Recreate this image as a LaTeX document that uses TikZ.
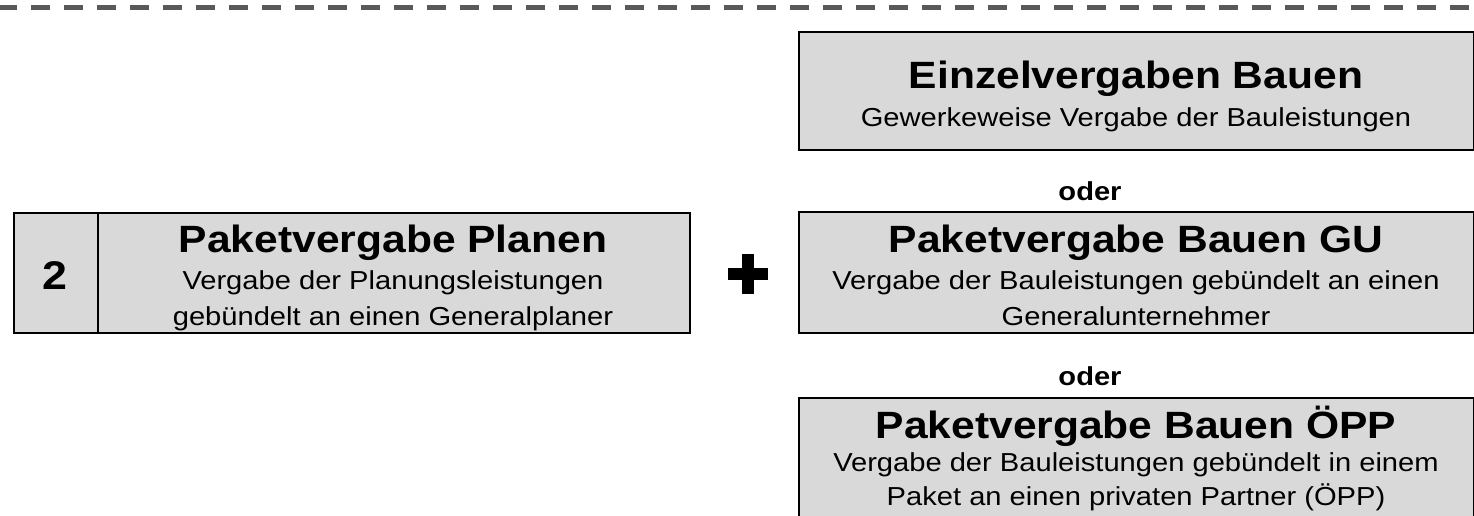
\documentclass[tikz,border=0pt]{standalone}
\usepackage{fontspec}
\setmainfont[FakeStretch=1.12]{Liberation Sans}
\usepackage{tikz}
\usetikzlibrary{calc}
\definecolor{boxgray}{HTML}{D9D9D9}
\definecolor{dashgray}{HTML}{595959}
\tikzstyle{box} = [rectangle, draw, line width=2pt, fill=boxgray, inner sep=0pt, anchor=north west]
\tikzstyle{titel} = [font=\fontsize{38}{44}\selectfont\bfseries, inner sep=0pt, anchor=base]
\tikzstyle{unter} = [font=\fontsize{26}{30}\selectfont, inner sep=0pt, anchor=base]
\tikzstyle{oder} = [font=\fontsize{26}{30}\selectfont\bfseries, inner sep=0pt, anchor=base]

\begin{document}
\begin{tikzpicture}[x=1pt, y=-1pt]
    \clip (0,0) rectangle (1474,515);
    \draw [dashgray, line width=5pt, dash pattern=on 19pt off 14pt, dash phase=2pt] (0,7) -- (1474,7);

    % links: Planen
    \node [box, minimum width=84, minimum height=120] (nr) at (13,212) {};
    \node [box, minimum width=592, minimum height=120] (planen) at (97,212) {};
    \node [titel, font=\fontsize{40}{44}\selectfont\bfseries] (nrtext) at (55,289) {2};
    \node [titel] (planentitel) at (393,252) {Paketvergabe Planen};
    \node [unter] (planen1) at (393,289) {Vergabe der Planungsleistungen};
    \node [unter] (planen2) at (393,325) {gebündelt an einen Generalplaner};

    \coordinate (plus) at (748,274);
    \fill ($(plus)+(-20,-6)$) rectangle ($(plus)+(20,6)$);
    \fill ($(plus)+(-6,-20)$) rectangle ($(plus)+(6,20)$);

    % rechts: Bauen
    \node [box, minimum width=675, minimum height=118] (einzel) at (798,31) {};
    \node [titel] (einzeltitel) at (1136,88) {Einzelvergaben Bauen};
    \node [unter] (einzel1) at (1136,126) {Gewerkeweise Vergabe der Bauleistungen};

    \node [oder] (oder1) at (1090,200) {oder};

    \node [box, minimum width=675, minimum height=121] (gu) at (798,211) {};
    \node [titel] (gutitel) at (1136,252) {Paketvergabe Bauen GU};
    \node [unter] (gu1) at (1136,289) {Vergabe der Bauleistungen gebündelt an einen};
    \node [unter] (gu2) at (1136,325) {Generalunternehmer};

    \node [oder] (oder2) at (1090,385) {oder};

    \node [box, minimum width=675, minimum height=140] (oepp) at (798,397) {};
    \node [titel] (oepptitel) at (1136,438) {Paketvergabe Bauen ÖPP};
    \node [unter] (oepp1) at (1136,471) {Vergabe der Bauleistungen gebündelt in einem};
    \node [unter] (oepp2) at (1136,505) {Paket an einen privaten Partner (ÖPP)};
\end{tikzpicture}
\end{document}
